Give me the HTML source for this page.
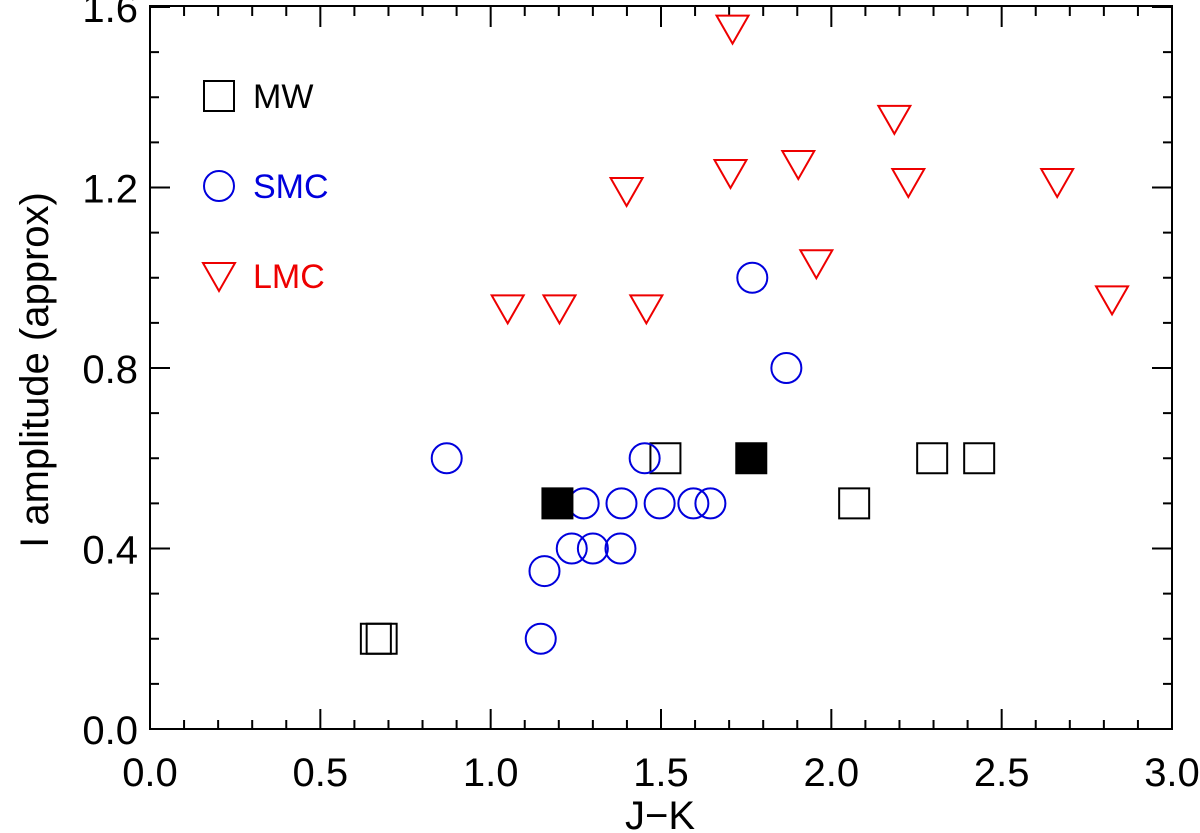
<!DOCTYPE html>
<html><head><meta charset="utf-8"><style>
body{margin:0;background:#fff;}
svg{display:block;font-family:"Liberation Sans",Arial,sans-serif;}
</style></head><body>
<svg id="chart" width="1200" height="833" viewBox="0 0 1200 833" xmlns="http://www.w3.org/2000/svg">
<rect x="150" y="6" width="1022" height="723" fill="none" stroke="#000" stroke-width="2"/>
<g id="ticks"></g>
<g id="marks"></g>
<text x="660" y="829" font-size="40" text-anchor="middle">J−K</text>
<text transform="translate(48,370) rotate(-90)" font-size="40" text-anchor="middle">I amplitude (approx)</text>
<g>
<rect x="204" y="81" width="30" height="30" fill="none" stroke="#000" stroke-width="2"/>
<text x="253" y="108" font-size="34">MW</text>
<circle cx="219" cy="186" r="15" fill="none" stroke="#0000dd" stroke-width="2"/>
<text x="253" y="198" font-size="34" fill="#0000dd">SMC</text>
<polygon points="203,263 235,263 219,291" fill="none" stroke="#e00" stroke-width="2"/>
<text x="253" y="288" font-size="34" fill="#e00">LMC</text>
</g>
</svg>
<script>
const xTicks=[0.0,0.5,1.0,1.5,2.0,2.5,3.0];
const yTicks=[0.0,0.4,0.8,1.2,1.6];
const mwX=[0.663,0.68,1.513,2.067,2.296,2.434];
const mwY=[0.2,0.2,0.6,0.5,0.6,0.6];
const mwFilledX=[1.196,1.765];
const mwFilledY=[0.5,0.6];
const smcX=[0.871,1.147,1.158,1.238,1.30,1.381,1.273,1.384,1.496,1.595,1.645,1.452,1.768,1.868];
const smcY=[0.6,0.2,0.35,0.4,0.4,0.4,0.5,0.5,0.5,0.5,0.5,0.6,1.0,0.8];
const lmcX=[1.05,1.202,1.457,1.399,1.704,1.903,1.956,2.185,2.226,2.663,2.824,1.71];
const lmcY=[0.93,0.93,0.93,1.19,1.23,1.25,1.03,1.35,1.21,1.21,0.95,1.55];
const NS="http://www.w3.org/2000/svg";
const X0=150,X1=1172,Y0=729,Y1=7;
function sx(v){return X0+v/3.0*(X1-X0);}
function sy(v){return Y0-v/1.6*(Y0-Y1);}
function mk(tag,attrs,parent){const e=document.createElementNS(NS,tag);for(const k in attrs)e.setAttribute(k,attrs[k]);parent.appendChild(e);return e;}
const tg=document.getElementById('ticks');
for(let i=0;i<=30;i++){
  const v=i/10,x=sx(v),L=(i%5===0)?20:9;
  const t=mk('line',{x1:x,y1:Y0,x2:x,y2:Y0-L,stroke:'#000','stroke-width':2},tg);
  
  
  const t2=mk('line',{x1:x,y1:Y1,x2:x,y2:Y1+L,stroke:'#000','stroke-width':2},tg);
  
  
}
for(let i=0;i<=16;i++){
  const v=i/10,y=sy(v),L=(i%4===0)?20:9;
  const t=mk('line',{x1:X0,y1:y,x2:X0+L,y2:y,stroke:'#000','stroke-width':2},tg);
  
  
  const t2=mk('line',{x1:X1,y1:y,x2:X1-L,y2:y,stroke:'#000','stroke-width':2},tg);
  
  
}
xTicks.forEach(v=>{const t=mk('text',{x:sx(v),y:786,'font-size':40,'text-anchor':'middle'},tg);t.textContent=v.toFixed(1);
  
  });
yTicks.forEach(v=>{const t=mk('text',{x:138,y:sy(v)+15,'font-size':40,'text-anchor':'end'},tg);t.textContent=v.toFixed(1);
  
  });
const mg=document.getElementById('marks');
mwX.forEach((v,i)=>{const r=mk('rect',{x:sx(v)-15,y:sy(mwY[i])-15,width:30,height:30,fill:'none',stroke:'#000','stroke-width':2},mg);
  
  });
smcX.forEach((v,i)=>{const c=mk('circle',{cx:sx(v),cy:sy(smcY[i]),r:15,fill:'none',stroke:'#0000dd','stroke-width':2},mg);
  
  });
mwFilledX.forEach((v,i)=>{const r=mk('rect',{x:sx(v)-15,y:sy(mwFilledY[i])-15,width:30,height:30,fill:'#000',stroke:'#000','stroke-width':2},mg);
  
  });
lmcX.forEach((v,i)=>{const x=sx(v),y=sy(lmcY[i]);
  const p=mk('polygon',{points:`${x-16},${y-14} ${x+16},${y-14} ${x},${y+14}`,fill:'none',stroke:'#e00','stroke-width':2},mg);
  
  });
</script>
</body></html>
